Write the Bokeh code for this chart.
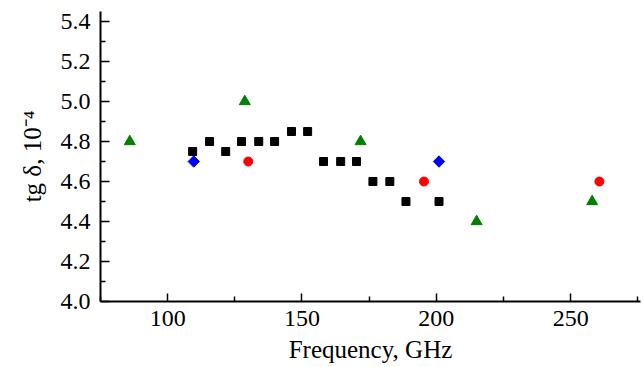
import math
from bokeh.plotting import figure
from bokeh.models import Range1d, FixedTicker, NumeralTickFormatter
from bokeh.embed import file_html
from bokeh.resources import INLINE

# Data
sq_f = [109.3, 115.6, 121.6, 127.5, 133.9, 139.8, 146.1, 152.1, 158.0, 164.4, 170.3, 176.4, 182.7, 188.7, 201.0]
sq_v = [4.75, 4.80, 4.75, 4.80, 4.80, 4.80, 4.85, 4.85, 4.70, 4.70, 4.70, 4.60, 4.60, 4.50, 4.50]
tri_f = [85.9, 128.7, 171.8, 215.0, 258.0]
tri_v = [4.80, 5.00, 4.80, 4.40, 4.50]
dia_f = [109.7, 201.0]
dia_v = [4.70, 4.70]
cir_f = [130.0, 195.4, 260.7]
cir_v = [4.70, 4.60, 4.60]

x_ticks = [100, 150, 200, 250]
x_minor = [75, 125, 175, 225, 275]
y_ticks = [4.0, 4.2, 4.4, 4.6, 4.8, 5.0, 5.2, 5.4]
y_minor = [4.1, 4.3, 4.5, 4.7, 4.9, 5.1, 5.3]

FONT = "Liberation Serif"

p = figure(width=643, height=367, output_backend="svg", toolbar_location=None,
           x_range=Range1d(75, 276), y_range=Range1d(4.0, 5.45),
           min_border_left=100, min_border_right=3, min_border_top=11, min_border_bottom=66)
p.outline_line_color = None
p.grid.visible = False
p.background_fill_color = "white"
p.border_fill_color = "white"

p.scatter(sq_f, sq_v, marker="square", size=8, color="black")
p.scatter(tri_f, tri_v, marker="triangle", size=11, color="#008000")
p.scatter(dia_f, dia_v, marker="square", size=8, angle=math.pi / 4, color="#0000ff")
p.scatter(cir_f, cir_v, marker="circle", size=9, color="#ff0000")

p.xaxis.ticker = FixedTicker(ticks=x_ticks, minor_ticks=x_minor)
p.yaxis.ticker = FixedTicker(ticks=y_ticks, minor_ticks=y_minor)
p.yaxis.formatter = NumeralTickFormatter(format="0.0")

for ax in (p.xaxis[0], p.yaxis[0]):
    ax.axis_line_width = 2
    ax.axis_line_color = "black"
    ax.major_tick_out = 0
    ax.minor_tick_out = 0
    ax.major_tick_line_width = 1.5
    ax.minor_tick_line_width = 1.5
    ax.major_tick_line_color = "black"
    ax.minor_tick_line_color = "black"
    ax.major_label_text_font = FONT
    ax.major_label_text_font_size = "24px"
    ax.major_label_text_color = "black"
    ax.axis_label_text_font = FONT
    ax.axis_label_text_font_size = "25px"
    ax.axis_label_text_font_style = "normal"
    ax.axis_label_text_color = "black"

p.xaxis.major_tick_in = 8
p.xaxis.minor_tick_in = 5
p.yaxis.major_tick_in = 9
p.yaxis.minor_tick_in = 5

p.xaxis.axis_label = "Frequency, GHz"
p.yaxis.axis_label = "tg δ, 10⁻⁴"
p.xaxis.major_label_standoff = 9
p.yaxis.major_label_standoff = 10
p.xaxis.axis_label_standoff = 7
p.yaxis.axis_label_standoff = 12

open("out.html", "w").write(file_html(p, INLINE))
